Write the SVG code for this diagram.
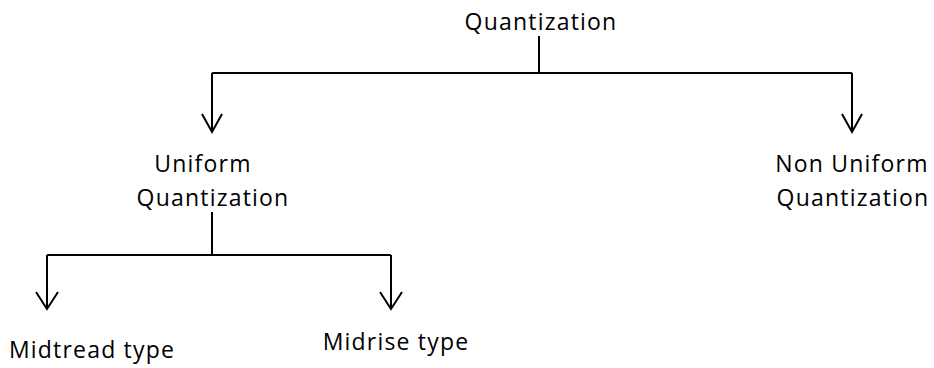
<svg xmlns="http://www.w3.org/2000/svg" width="934" height="368" viewBox="0 0 934 368">
<style>
text{font-family:"Open Sans","Liberation Sans",sans-serif;font-size:23px;fill:#000;letter-spacing:1.2px}
.ln{stroke:#000;stroke-width:2;fill:none}
</style>
<rect width="934" height="368" fill="#fff"/>
<g id="connectors">
<path class="ln" d="M539 36V73M212 73H852M212 73V132M852 73V132"/>
<path class="ln" d="M202 114L212 132L222 114M842 114L852 132L862 114"/>
<path class="ln" d="M212 212V255M47 255H391M47 255V309M391 255V309"/>
<path class="ln" d="M36 292L47 309L58 292M380 292L391 309L402 292"/>
</g>
<g id="quantization"><text x="541" y="30" text-anchor="middle">Quantization</text></g>
<g id="uniform"><text x="203" y="172" text-anchor="middle">Uniform</text><text x="213" y="206" text-anchor="middle">Quantization</text></g>
<g id="nonuniform"><text x="852" y="172" text-anchor="middle">Non Uniform</text><text x="853" y="206" text-anchor="middle">Quantization</text></g>
<g id="midtread"><text x="92" y="358" text-anchor="middle">Midtread type</text></g>
<g id="midrise"><text x="396" y="350" text-anchor="middle">Midrise type</text></g>
</svg>
